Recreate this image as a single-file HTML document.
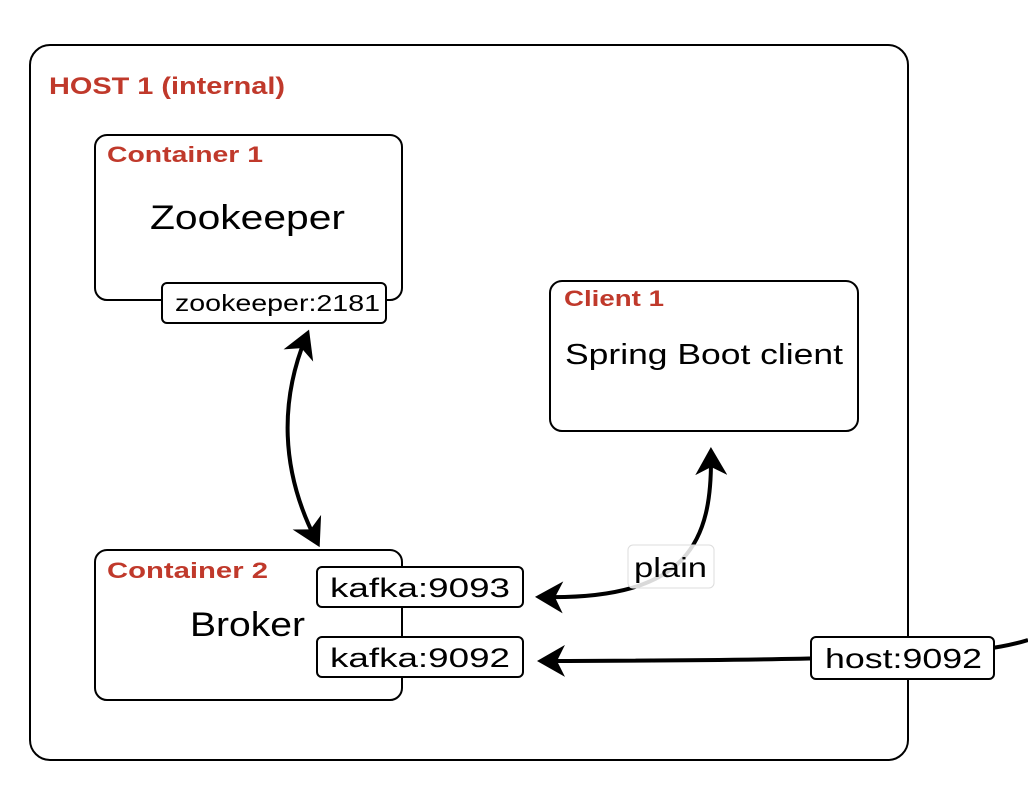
<!DOCTYPE html>
<html><head><meta charset="utf-8"><style>
html,body{margin:0;padding:0;background:#fff;}
svg{display:block;}
text{font-family:"Liberation Sans","DejaVu Sans",sans-serif;}
</style></head><body>
<svg width="1028" height="786" viewBox="0 0 1028 786" xmlns="http://www.w3.org/2000/svg">
<defs>
<marker id="ah" markerWidth="8" markerHeight="8" refX="5" refY="4" orient="auto-start-reverse" markerUnits="strokeWidth">
<path d="M0,0 L7,4 L0,8 L2,4 Z" fill="#000"/>
</marker>
</defs>
<rect x="30" y="45" width="878" height="715" rx="20" fill="#fff" stroke="#000" stroke-width="2"/>
<text x="49" y="94" font-size="24" font-weight="bold" fill="#c0392b" textLength="236" lengthAdjust="spacingAndGlyphs">HOST 1 (internal)</text>

<rect x="95" y="135" width="307" height="165" rx="12" fill="#fff" stroke="#000" stroke-width="2"/>
<text x="107" y="162" font-size="22" font-weight="bold" fill="#c0392b" textLength="156" lengthAdjust="spacingAndGlyphs">Container 1</text>
<text x="150" y="229" font-size="34" textLength="195" lengthAdjust="spacingAndGlyphs">Zookeeper</text>
<rect x="162" y="283" width="224" height="40" rx="5" fill="#fff" stroke="#000" stroke-width="2"/>
<text x="175" y="311" font-size="23" textLength="205" lengthAdjust="spacingAndGlyphs">zookeeper:2181</text>

<rect x="550" y="281" width="308" height="150" rx="12" fill="#fff" stroke="#000" stroke-width="2"/>
<text x="564" y="306" font-size="22" font-weight="bold" fill="#c0392b" textLength="100" lengthAdjust="spacingAndGlyphs">Client 1</text>
<text x="565" y="364" font-size="29" textLength="278" lengthAdjust="spacingAndGlyphs">Spring Boot client</text>

<rect x="95" y="550" width="307" height="150" rx="12" fill="#fff" stroke="#000" stroke-width="2"/>
<text x="107" y="578" font-size="22" font-weight="bold" fill="#c0392b" textLength="161" lengthAdjust="spacingAndGlyphs">Container 2</text>
<text x="190" y="636" font-size="34" textLength="115" lengthAdjust="spacingAndGlyphs">Broker</text>
<rect x="317" y="567" width="206" height="40" rx="5" fill="#fff" stroke="#000" stroke-width="2"/>
<text x="330" y="597" font-size="27" textLength="180" lengthAdjust="spacingAndGlyphs">kafka:9093</text>
<rect x="317" y="637" width="206" height="40" rx="5" fill="#fff" stroke="#000" stroke-width="2"/>
<text x="330" y="667" font-size="27" textLength="180" lengthAdjust="spacingAndGlyphs">kafka:9092</text>

<path d="M306,337 C280,400 280,470 316,540" fill="none" stroke="#000" stroke-width="4" marker-start="url(#ah)" marker-end="url(#ah)"/>
<path d="M711,455 C712,540 690,600 543,597" fill="none" stroke="#000" stroke-width="4" marker-start="url(#ah)" marker-end="url(#ah)"/>
<path d="M1028,640 C980,655 900,660 545,661" fill="none" stroke="#000" stroke-width="4" marker-end="url(#ah)"/>

<rect x="628" y="545" width="86" height="43" rx="5" fill="#fff" fill-opacity="0.85" stroke="#ddd" stroke-width="1"/>
<text x="634" y="577" font-size="28" textLength="73" lengthAdjust="spacingAndGlyphs">plain</text>

<rect x="811" y="637" width="183" height="42" rx="5" fill="#fff" stroke="#000" stroke-width="2"/>
<text x="825" y="668" font-size="28" textLength="157" lengthAdjust="spacingAndGlyphs">host:9092</text>
</svg>
</body></html>
